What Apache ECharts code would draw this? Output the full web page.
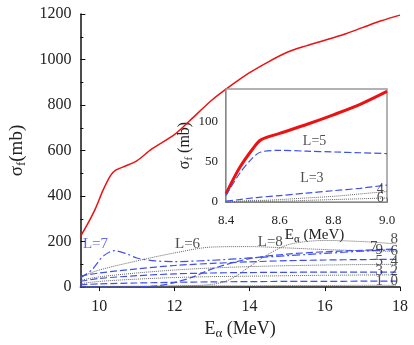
<!DOCTYPE html>
<html>
<head>
<meta charset="utf-8">
<script src="https://cdn.jsdelivr.net/npm/echarts@6/dist/echarts.min.js"></script>
<style>
html, body { margin: 0; padding: 0; background: #fff; }
#chart { width: 414px; height: 345px; }
</style>
</head>
<body>
<div id="chart"></div>
<script>
// main panel data (E alpha in MeV, sigma_f in mb)
var eTotal = [9.5, 9.7, 9.9, 10.1, 10.3, 10.45, 10.7, 11, 11.4, 12, 12.4, 13, 13.5, 14, 14.5, 15, 15.5, 16, 16.5, 17, 17.5, 18];
var sigTotal = [222, 280, 345, 425, 490, 515, 532, 555, 607, 670, 730, 822, 885, 942, 990, 1032, 1060, 1085, 1110, 1140, 1170, 1195];

var eL = [9.5, 10, 11, 12, 13, 14, 15, 16, 17, 17.9];
var sigL0 = [2, 3, 4, 5, 6, 6, 7, 7, 8, 8];
var sigL1 = [10, 14, 18, 21, 23, 24, 25, 25, 26, 26];
var sigL2 = [15, 25, 35, 42, 46, 48, 50, 52, 53, 54];
var sigL3 = [25, 38, 50, 58, 62, 64, 65, 66, 66, 66];
var sigL4 = [30, 45, 62, 75, 84, 90, 94, 97, 99, 100];
var sigL5 = [48, 62, 80, 95, 104, 111, 116, 119, 121, 122];
var sigL6 = [45, 75, 115, 150, 176, 178, 172, 165, 160, 157];

var eL7 = [9.5, 9.8, 10.1, 10.4, 10.7, 11, 11.5, 12, 13, 14, 15, 16, 17, 17.9];
var sigL7 = [40, 75, 135, 160, 148, 128, 115, 112, 118, 128, 138, 148, 158, 165];

var eL8 = [9.5, 11, 12, 13, 13.5, 14, 14.5, 15, 15.5, 16, 17, 17.9];
var sigL8 = [0, 2, 5, 12, 35, 90, 145, 185, 200, 205, 200, 190];

var eL9 = [9.5, 10.5, 11, 11.5, 12, 12.5, 13, 14, 15, 16, 17, 17.9];
var sigL9 = [0, 0, 1, 5, 20, 45, 80, 125, 145, 155, 162, 168];

var xTicks = [10, 12, 14, 16, 18];

// inset panel data
var eIn = [8.4, 8.45, 8.5, 8.53, 8.6, 8.7, 8.8, 8.9, 9.0];
var inTotal = [10, 42, 66, 77, 85, 96, 108, 121, 137];
var inL5 = [8, 35, 55, 62, 64, 63, 62, 61, 60];
var inL3 = [1, 3, 5, 6, 8, 11, 14, 17, 21];
var inL4 = [0, 1, 2, 2, 3, 5, 7, 10, 13];
var inL6 = [0, 0, 1, 1, 1, 2, 3, 4, 5];

// text labels: [E, sigma, text, colour]
var mainLabels = [[9.9, 188, 'L=7', '#3344dd'], [12.35, 188, 'L=6', '#222'], [14.55, 198, 'L=8', '#222'],
  [17.3, 176, '7', '#222'], [17.85, 210, '8', '#222'], [17.45, 161, '9', '#222'], [17.85, 157, '6', '#222'],
  [17.45, 113, '5', '#222'], [17.85, 113, '4', '#222'], [17.45, 70, '3', '#222'], [17.85, 70, '2', '#222'],
  [17.45, 26, '1', '#222'], [17.85, 26, '0', '#222']];
var insetLabels = [[8.73, 75, 'L=5'], [8.72, 29, 'L=3'], [8.975, 16, '4'], [8.975, 5, '6']];

function pairs(xs, ys) {
  return xs.map(function (x, i) { return [x, ys[i]]; });
}

var serif = 'Liberation Serif';
var blue = '#3f4ff0';
var dotted = '#666';

function line(name, xs, ys, color, type, width, gi) {
  return {
    name: name, type: 'line', xAxisIndex: gi, yAxisIndex: gi,
    data: pairs(xs, ys), showSymbol: false, smooth: 0.3, z: gi ? 6 : 2,
    lineStyle: { color: color, type: type, width: width }
  };
}

var chart = echarts.init(document.getElementById('chart'));

var option = {
  backgroundColor: '#fff',
  animation: false,
  grid: [
    { left: 64, right: 14, top: 14, bottom: 56 },
    { left: 226, top: 89, width: 161, height: 113, show: true, borderColor: '#999', borderWidth: 1.5, backgroundColor: '#fff', z: 5 }
  ],
  xAxis: [
    {
      gridIndex: 0, type: 'value', min: 9.5, max: 18,
      name: '{a|E}{s|α}{a| (MeV)}', nameLocation: 'middle', nameGap: 28,
      nameTextStyle: { rich: { a: { fontFamily: serif, fontSize: 18, color: '#222' }, s: { fontFamily: serif, fontSize: 13, color: '#222', padding: [9, 0, 0, 0] } } },
      axisLine: { lineStyle: { color: '#111', width: 1.5 } },
      axisTick: { inside: false, length: 4, lineStyle: { color: '#111' }, customValues: xTicks },
      axisLabel: { fontFamily: serif, fontSize: 16, color: '#222', margin: 12, customValues: xTicks },
      splitLine: { show: false }
    },
    {
      gridIndex: 1, type: 'value', min: 8.4, max: 9.0, interval: 0.2,
      name: '{a|E}{s|α}{a| (MeV)}', nameLocation: 'middle', nameGap: 21,
      nameTextStyle: { padding: [0, 0, 0, 16], rich: { a: { fontFamily: serif, fontSize: 15, color: '#222' }, s: { fontFamily: serif, fontSize: 11, color: '#222', padding: [8, 0, 0, 0] } } },
      axisLine: { lineStyle: { color: '#111', width: 1.5 } },
      axisTick: { inside: true, length: 4, lineStyle: { color: '#111' } },
      minorTick: { show: true, splitNumber: 2, length: 2 },
      axisLabel: { fontFamily: serif, fontSize: 13, color: '#222', margin: 12, formatter: function (v) { return v.toFixed(1); } },
      splitLine: { show: false }
    }
  ],
  yAxis: [
    {
      gridIndex: 0, type: 'value', min: 0, max: 1200, interval: 200,
      name: '{a|σ}{s|f}{a|(mb)}', nameLocation: 'middle', nameGap: 40,
      nameTextStyle: { rich: { a: { fontFamily: serif, fontSize: 19, color: '#222' }, s: { fontFamily: serif, fontSize: 13, color: '#222', padding: [9, 0, 0, 0] } } },
      axisLine: { show: true, lineStyle: { color: '#111', width: 1.5 } },
      axisTick: { inside: true, length: 5, lineStyle: { color: '#111' } },
      minorTick: { show: true, splitNumber: 2, length: 3, lineStyle: { color: '#111' } },
      axisLabel: { fontFamily: serif, fontSize: 16, color: '#222', margin: 9, formatter: function (v) { return String(v); } },
      splitLine: { show: false }
    },
    {
      gridIndex: 1, type: 'value', min: 0, max: 140, interval: 50,
      name: '{a|σ}{s|f}{a| (mb)}', nameLocation: 'middle', nameGap: 22,
      nameTextStyle: { rich: { a: { fontFamily: serif, fontSize: 16, color: '#222' }, s: { fontFamily: serif, fontSize: 11, color: '#222', padding: [8, 0, 0, 0] } } },
      axisLine: { show: true, lineStyle: { color: '#111', width: 1.5 } },
      axisTick: { inside: true, length: 4, lineStyle: { color: '#111' } },
      minorTick: { show: true, splitNumber: 2, length: 2 },
      axisLabel: { fontFamily: serif, fontSize: 13, color: '#222', margin: 8, showMaxLabel: false, formatter: function (v) { return v % 50 === 0 ? String(v) : ''; } },
      splitLine: { show: false }
    }
  ],
  series: [
    line('total', eTotal, sigTotal, '#ee1111', 'solid', 1.5, 0),
    line('L0', eL, sigL0, dotted, 'dotted', 1, 0),
    line('L1', eL, sigL1, blue, [7, 3], 1.2, 0),
    line('L2', eL, sigL2, dotted, 'dotted', 1, 0),
    line('L3', eL, sigL3, blue, [7, 3], 1.2, 0),
    line('L4', eL, sigL4, dotted, 'dotted', 1, 0),
    line('L5', eL, sigL5, blue, [7, 3], 1.2, 0),
    line('L6', eL, sigL6, dotted, 'dotted', 1, 0),
    line('L7', eL7, sigL7, blue, [8, 3, 2, 3], 1.2, 0),
    line('L8', eL8, sigL8, dotted, 'dotted', 1, 0),
    line('L9', eL9, sigL9, blue, [7, 3], 1.2, 0),
    {
      type: 'scatter', xAxisIndex: 0, yAxisIndex: 0, symbolSize: 0, silent: true,
      data: mainLabels.map(function (d) {
        return { value: [d[0], d[1]], label: { show: true, formatter: d[2], color: d[3], fontFamily: serif, fontSize: 15, position: 'inside' } };
      })
    },
    line('inTotal', eIn, inTotal, '#ee1111', 'solid', 3, 1),
    line('inL5', eIn, inL5, blue, [7, 3], 1.2, 1),
    line('inL3', eIn, inL3, blue, [7, 3], 1.2, 1),
    line('inL4', eIn, inL4, dotted, 'dotted', 1, 1),
    line('inL6', eIn, inL6, dotted, 'dotted', 1, 1),
    {
      type: 'scatter', xAxisIndex: 1, yAxisIndex: 1, symbolSize: 0, silent: true, z: 10,
      data: insetLabels.map(function (d) {
        return { value: [d[0], d[1]], label: { show: true, formatter: d[2], color: '#222', fontFamily: serif, fontSize: 14, position: 'inside' } };
      })
    }
  ]
};
chart.setOption(option);
</script>
</body>
</html>
